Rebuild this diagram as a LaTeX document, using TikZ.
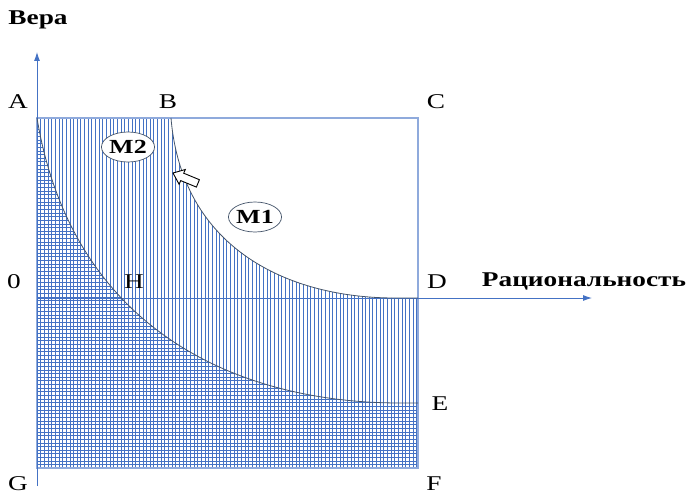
\documentclass[tikz,border=0pt]{standalone}
\usepackage{fontspec}
\usepackage{graphicx}
\setmainfont{Liberation Serif}
\usetikzlibrary{shapes.geometric,arrows.meta}
\definecolor{hatch}{HTML}{4472C4}
\definecolor{framec}{HTML}{8FAADC}
\definecolor{curvec}{HTML}{44546A}
\newcommand\sx[1]{\scalebox{1.3}[1]{#1}}
\begin{document}
\begin{tikzpicture}[x=1pt,y=-1pt,
  lbl/.style={font=\fontsize{21}{22}\selectfont, inner sep=0},
  bl/.style={font=\bfseries\fontsize{21}{22}\selectfont, inner sep=0},
  mlab/.style={ellipse, draw=curvec, fill=white, line width=0.7pt,
    minimum width=45pt, minimum height=30pt, inner sep=0,
    font=\bfseries\fontsize{20}{21}\selectfont},
  hl/.style={hatch, line width=0.65pt},
  curveline/.style={curvec, line width=0.8pt},
  axis/.style={hatch, line width=0.9pt, -{Latex[length=9pt,width=6pt]}}]
\useasboundingbox (0,0) rectangle (688,495);
% key points
\coordinate (A) at (37,118);
\coordinate (B) at (171,118);
\coordinate (C) at (418,118);
\coordinate (D) at (418,298);
\coordinate (E) at (418,403);
\coordinate (F) at (418,468);
\coordinate (G) at (37,468);
\coordinate (O) at (37,298);
\coordinate (Ybot) at (37,486);
\coordinate (Ytop) at (37,52);
\coordinate (Xend) at (592,298);
% vertical hatching below outer curve
\begin{scope}
  \clip (B) .. controls (182,250) and (290,298) .. (395,298) -- (D) -- (F) -- (G) -- (A) -- cycle;
  \foreach \x in {37,40.65,...,420} \draw[hl] (\x,118) -- (\x,468);
\end{scope}
% horizontal hatching below inner curve
\begin{scope}
  \clip (A) .. controls (72,330) and (238,403) .. (400,403) -- (E) -- (F) -- (G) -- cycle;
  \foreach \y in {118,121.65,...,470} \draw[hl] (37,\y) -- (418,\y);
\end{scope}
% frame
\draw[framec, line width=1.1pt] (A) -- (C) -- (F) -- (G) -- cycle;
% axes
\draw[axis] (Ybot) -- (Ytop);
\draw[axis] (O) -- (Xend);
% curves
\draw[curveline] (B) .. controls (182,250) and (290,298) .. (395,298) -- (D);
\draw[curveline] (A) .. controls (72,330) and (238,403) .. (400,403) -- (E);
% labels
\node[bl] (vera) at (38,20) {\sx{Вера}};
\node[bl] (rac) at (584,281) {\sx{Рациональность}};
\node[lbl] (lA) at (18,102) {\sx{A}};
\node[lbl] (lB) at (168,102) {\sx{B}};
\node[lbl] (lC) at (436,102) {\sx{C}};
\node[lbl] (l0) at (14,282) {\sx{0}};
\node[lbl] (lH) at (134,282) {\sx{H}};
\node[lbl] (lD) at (437,282) {\sx{D}};
\node[lbl] (lE) at (440,404) {\sx{E}};
\node[lbl] (lG) at (18,484) {\sx{G}};
\node[lbl] (lF) at (434,484) {\sx{F}};
% ellipses
\node[mlab] (m2) at (128,147) {\sx{M2}};
\node[mlab] (m1) at (255,217) {\sx{M1}};
% hollow arrow
\draw[fill=white, line width=0.9pt, line join=miter] (173,173) -- (185.3,169.5) -- (183.7,173.2) -- (199.4,179.7) -- (196.4,187.1) -- (180.7,180.6) -- (179.1,184.3) -- cycle;
\end{tikzpicture}
\end{document}
